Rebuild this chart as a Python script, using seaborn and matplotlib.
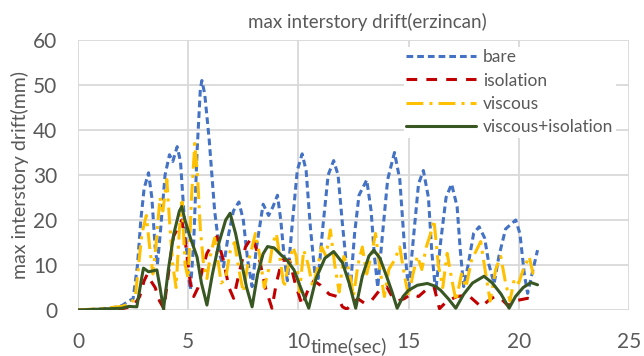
import numpy as np
import pandas as pd
import matplotlib
matplotlib.use("Agg")
import matplotlib.pyplot as plt
import seaborn as sns

# ---------------- data ----------------
bare_t = [0, 0.5, 1.0, 1.5, 2.0, 2.3, 2.5, 2.7, 2.85, 3.0, 3.2, 3.35, 3.5, 3.6, 3.75, 3.95, 4.15, 4.3, 4.5, 4.65,
          4.8, 5.0, 5.1, 5.25, 5.4, 5.55, 5.62, 5.75, 5.95, 6.2, 6.45, 6.6, 6.8, 7.05, 7.3, 7.5, 7.7, 7.9, 8.1, 8.4,
          8.65, 8.85, 9.05, 9.2, 9.35, 9.5, 9.7, 9.95, 10.17, 10.35, 10.55, 10.75, 10.9, 11.1, 11.35, 11.6, 11.8,
          12.0, 12.2, 12.36, 12.55, 12.75, 13.1, 13.3, 13.45, 13.6, 13.8, 14.05, 14.36, 14.6, 14.8, 15.0, 15.2,
          15.45, 15.67, 15.9, 16.05, 16.23, 16.45, 16.7, 16.95, 17.2, 17.35, 17.5, 17.7, 17.95, 18.2, 18.45, 18.65,
          18.88, 19.1, 19.4, 19.86, 20.05, 20.25, 20.4, 20.6, 20.85]
bare_v = [0, 0.1, 0.2, 0.4, 1.0, 2.0, 2.5, 10, 20, 27, 30.5, 25, 14, 10, 18, 30, 34.5, 33, 36.3, 33,
          22, 8, 4.5, 15, 35, 49, 51, 48, 38, 22, 12, 9.6, 16, 22, 24, 20, 11, 5.2, 14, 23.5,
          21, 23, 25.5, 20, 12, 6.5, 18, 31, 34.7, 31, 18, 8, 7, 18, 30, 33.2, 30,
          19, 9, 5, 17, 25.5, 28.9, 22, 12, 5, 16, 29, 35, 29, 15, 4, 15,
          28, 31, 25, 13, 4, 15, 25, 28, 23, 13, 5.2, 10, 17, 18.5, 16, 10,
          5.9, 12, 18, 20, 17, 8, 3.7, 8, 13.3]

iso_t = [0, 1.0, 2.0, 2.5, 2.8, 3.0, 3.15, 3.3, 3.5, 3.7, 3.9, 4.1, 4.33, 4.71, 4.9, 5.1, 5.25, 5.45, 5.65, 5.85,
         6.3, 6.6, 6.85, 7.06, 7.3, 7.6, 7.9, 8.2, 8.5, 8.8, 9.0, 9.26, 9.6, 9.85, 10.17, 10.4, 10.7, 11.0, 11.4,
         11.76, 12.0, 12.2, 12.45, 12.7, 13.0, 13.3, 13.7, 14.0, 14.25, 14.5, 14.8, 15.1, 15.45, 15.8, 16.15,
         16.4, 16.75, 17.2, 17.7, 18.0, 18.3, 18.6, 18.9, 19.2, 19.5, 19.8, 20.1, 20.4, 20.7]
iso_v = [0, 0.1, 0.3, 0.8, 3, 6.5, 8, 6.5, 5, 2, 0.3, 8, 16.3, 20, 14, 6, 3, 5, 9, 12.6,
         16.3, 11, 5, 2.6, 8, 14, 16.3, 12, 5, 0.4, 6, 11.1, 11, 6, 1, 4, 6.5, 5.5, 3.5,
         3, 0.7, 0.2, 1.5, 2.5, 1.5, 2, 4.5, 5.2, 3, 2, 2.5, 3.5, 3, 4.5, 5.2,
         0.3, 2, 3, 3.3, 2, 0.7, 2, 3, 2.5, 1, 2, 2.3, 2.6, 2.2]

visc_t = [0, 1.0, 2.0, 2.4, 2.6, 2.75, 2.9, 3.1, 3.25, 3.4, 3.55, 3.72, 3.85, 4.03, 4.15, 4.3, 4.45, 4.6, 4.72,
          4.86, 5.0, 5.15, 5.3, 5.42, 5.55, 5.7, 5.85, 6.0, 6.2, 6.35, 6.5, 6.7, 6.9, 7.1, 7.3, 7.5, 7.7, 7.9,
          8.05, 8.25, 8.45, 8.65, 8.85, 9.0, 9.15, 9.35, 9.55, 9.75, 9.9, 10.05, 10.24, 10.45, 10.65, 10.85,
          11.05, 11.25, 11.45, 11.65, 11.85, 12.06, 12.3, 12.5, 12.7, 12.9, 13.1, 13.3, 13.5, 13.7, 13.9, 14.1,
          14.35, 14.6, 14.8, 15.0, 15.2, 15.4, 15.6, 15.8, 16.0, 16.15, 16.35, 16.55, 16.75, 16.95, 17.15, 17.4,
          17.6, 17.85, 18.05, 18.27, 18.5, 18.7, 18.95, 19.18, 19.4, 19.6, 19.8, 20.0, 20.2, 20.47, 20.65, 20.85]
visc_v = [0, 0.3, 0.8, 1.5, 3, 10, 17, 21, 14, 8, 15, 25, 22, 29, 20, 10, 5, 18, 24,
          10, 7, 25, 37, 30, 18, 10, 7, 12, 16, 11, 6, 7, 13, 15, 9, 4, 10, 14,
          17, 12, 5, 9, 15, 17, 12, 5, 10, 14, 12, 4, 13.3, 10, 5, 9,
          14, 12, 17.8, 10, 4, 11.9, 9, 3, 10, 14, 8, 12, 17, 9, 3, 9,
          11, 14, 8, 3, 8, 12, 9, 14, 17, 20, 10, 5, 12.6, 7, 2, 8,
          5, 11, 13, 15.2, 8, 2, 9, 11.9, 6, 2, 7, 6, 9, 11.9, 8, 7]

vi_t = [0, 1.0, 2.0, 2.3, 2.67, 2.85, 2.97, 3.2, 3.4, 3.58, 3.72, 3.88, 4.1, 4.35, 4.6, 4.71, 4.85, 5.1, 5.4,
        5.6, 5.85, 6.1, 6.4, 6.7, 6.9, 7.15, 7.4, 7.65, 7.9, 8.15, 8.4, 8.6, 8.9, 9.2, 9.48, 9.8, 10.1, 10.47,
        10.8, 11.2, 11.6, 12.0, 12.3, 12.6, 12.9, 13.2, 13.42, 13.7, 14.0, 14.25, 14.48, 14.75, 15.0, 15.4,
        15.85, 16.2, 16.45, 16.8, 17.14, 17.5, 17.9, 18.42, 18.8, 19.2, 19.56, 19.85, 20.2, 20.55, 20.85]
vi_v = [0, 0.2, 0.4, 0.8, 0.7, 6, 9.3, 8.5, 8.7, 8.9, 5, 0.2, 9, 17, 22, 23, 20, 16, 11.8,
        6, 1.1, 8, 15, 20, 21.5, 17, 11, 5, 0.7, 8, 12.5, 14.1, 13.8, 12.3, 11.1, 8.9, 5, 0.4,
        7, 11.5, 13, 10.5, 6, 0.4, 7.5, 12, 13.3, 11.5, 7.5, 4, 0.4, 3, 4.4, 5.5,
        5.9, 5.3, 4.4, 2.5, 0.4, 3.5, 6, 7.5, 6, 3.5, 0.4, 3, 5, 6.1, 5.6]

series_names = ["bare", "isolation", "viscous", "viscous+isolation"]
x_ticks = [0, 5, 10, 15, 20, 25]
y_ticks = [0, 10, 20, 30, 40, 50, 60]

# ---------------- build long table ----------------
frames = []
for name, t, v in zip(series_names, [bare_t, iso_t, visc_t, vi_t], [bare_v, iso_v, visc_v, vi_v]):
    frames.append(pd.DataFrame({"time": t, "drift": v, "series": name}))
df = pd.concat(frames, ignore_index=True)

sns.set_theme(style="white")
plt.rcParams["font.family"] = ["Lato", "DejaVu Sans"]

palette = {"bare": "#4472C4", "isolation": "#C00000", "viscous": "#FFC000", "viscous+isolation": "#385723"}
dashes = {"bare": (2.2, 1.3), "isolation": (3.5, 3.0), "viscous": (5.5, 2.0, 1.0, 2.0), "viscous+isolation": ""}

fig = plt.figure(figsize=(6.44, 3.56), dpi=100)
ax = fig.add_axes([78 / 644, 1 - 310 / 356, (629 - 78) / 644, (310 - 40) / 356])

sns.lineplot(data=df, x="time", y="drift", hue="series", style="series", hue_order=series_names,
             style_order=series_names, palette=palette, dashes=dashes, sort=False, estimator=None,
             linewidth=2.2, ax=ax, zorder=3)

ax.set_xlim(0, 25)
ax.set_ylim(0, 60)
ax.set_xticks(x_ticks)
ax.set_yticks(y_ticks)
ax.grid(True, color="#D9D9D9", linewidth=1.3)
ax.set_axisbelow(True)
for s in ax.spines.values():
    s.set_visible(False)
ax.tick_params(axis="both", length=0, labelsize=15, labelcolor="#595959")
ax.tick_params(axis="y", pad=15)
ax.tick_params(axis="x", pad=16)
ax.set_xlabel("")
ax.set_ylabel("")

fig.text(367 / 644, 1 - 22 / 356, "max interstory drift(erzincan)", ha="center", va="center",
         fontsize=13.5, color="#595959")
fig.text(20 / 644, 1 - 175 / 356, "max interstory drift(mm)", ha="center", va="center", rotation=90,
         fontsize=14, color="#595959")
fig.text(349 / 644, 1 - 346 / 356, "time(sec)", ha="center", va="center", fontsize=14, color="#595959")

leg = ax.legend(loc="upper left", bbox_to_anchor=((395 - 78) / 551, 1.0 + 2 / 270), frameon=True,
                fancybox=False, edgecolor="none", facecolor="white", framealpha=1.0, fontsize=12.5,
                handlelength=4.0, handletextpad=0.4, labelspacing=0.42, borderpad=0.15,
                labelcolor="#595959")
leg.set_zorder(5)
for h in leg.get_lines():
    h.set_linewidth(2.2)

fig.savefig("out.png", dpi=100, facecolor="white")
